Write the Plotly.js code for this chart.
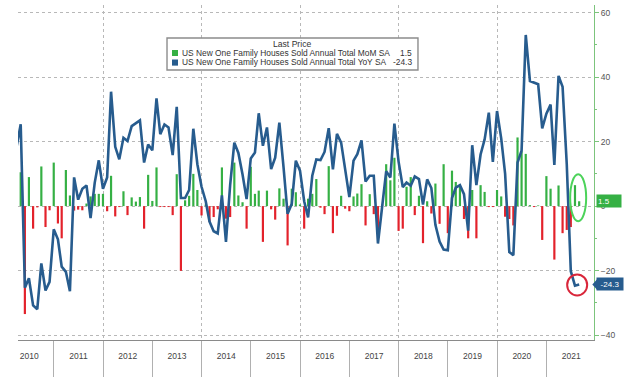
<!DOCTYPE html>
<html>
<head>
<meta charset="utf-8">
<script src="https://cdn.plot.ly/plotly-3.0.1.min.js"></script>
<style>html,body{margin:0;padding:0;background:#fff;}#chart{width:640px;height:377px;}</style>
</head>
<body>
<div id="chart"></div>
<script>
// First month of data (monthly series, Mar 2010 .. Aug 2021)
const startYear = 2010;
const startMonth = 3;

// US New One Family Houses Sold Annual Total MoM SA (%)
const momValues = [
  5, 10.5, -33.5, 9, -7, -0.4, 12.3, -6.5, -1.3, 13.5,
  -5.4, -10, 11.2, 3.3, -1.4, -1.1, -1.3, 0.8, 3, 3.8, 3.8, 3.8,
  -1.6, 9.4, -3.2, -0.3, 4.6, -2.8, 2.7, 1.4, 2.8, -7, 9.7, 1.6,
  12, -0.3, -0.3, -0.3, -2.8, 9.9, -20.1, 1.8, 3.2, 10, 5, -2.9,
  0.5, -4.9, -3.4, -1, 12, -3.9, -3.4, 13.5, 3.3, 1.2, -7, 12.2,
  3.8, 4.8, -11.1, 4.8, -1, -4.2, 5.5, 2.3, -12.2, 5.4, 4.3, 0.5,
  -7, 2.3, 3.8, 8.4, -0.5, -2.5, 12.4, -8.4, -3, 3.2, -0.8, -1.6,
  3, 3.9, 6.8, -6, 3.7, -2.5, -8.6, 0.5, 13, 8, 15, -7.7,
  -7, 6, 9, -2.8, 3.2, -11.5, 1.5, -2.3, 7, -5.5, 13, -8.4,
  11, 7.5, 6.3, -4, -10, 5, -10, 6.5, 4.4, -0.3, -0.3, 5,
  3, -3.3, -4, -6, 21.3, 17, 16.2, 0.3, -0.3, 0.2, -10.5, 9.3,
  5.4, -16.6, 6.4, -8.4, -7.4, -6.5, 6.5, 1.5
];

// US New One Family Houses Sold Annual Total YoY SA (%)
const yoyValues = [
  18.5, 25.4, -25.3, -22.4, -30.8, -32, -17.8, -26.2, -23.5, -7.2,
  -10.3, -18.8, -20.4, -26.4, 8.9, 2, 5.4, 6.4, -3.7, 7.3, 14.2, 5.4,
  8.9, 35.5, 18.4, 14.5, 21.2, 20.2, 24.8, 25.6, 26.6, 13.5, 19.1, 17.3,
  33.4, 22.3, 25.3, 24.4, 15.8, 30.8, 2.5, 2.5, 5, 24, 13, 6,
  1.5, -4.8, -7.8, -8.5, 3.3, -11.1, 6.5, 19.7, 16.5, 9.8, 2.2, 14.8,
  16.6, 28.8, 18.7, 24.4, 11.5, 15, 25.9, 12, -2.4, 0.7, 14.1, 11,
  1.5, -3.5, 9.4, 14.5, 14.3, 16.8, 24.2, 11.4, 22.4, 19.7, 10.9, 2.8,
  14.1, 16.1, 20.4, 7.6, 9.4, 9.4, -11.6, 0, 10.8, 8.9, 25.6, 13.8,
  5.9, 7.3, 6.3, 9.2, 8.4, 0.5, 8.3, 5.6, -5.8, -11, -13.5, -13.7,
  2.5, 5.7, 6.5, 3.7, -7.6, 18.9, 6.5, 16, 20.7, 29, 13.7, 29.5,
  21, 10, -14.3, -15.2, 13.5, 17.2, 53.1, 38.8, 38.3, 37.8, 24.1, 28.7,
  31.5, 12.8, 40.4, 37, 13, -20.2, -24.7, -24.3
];

const seriesNames = [
  'US New One Family Houses Sold Annual Total MoM SA',
  'US New One Family Houses Sold Annual Total YoY SA'
];
const legendTitle = 'Last Price';

const GREEN = '#35b044';
const RED = '#e3222b';
const BLUE = '#275c8e';

// month-end dates
function pad(n){return (n<10?'0':'')+n;}
const dates = momValues.map(function(_, k){
  const d = new Date(Date.UTC(startYear, startMonth - 1 + k + 1, 0));
  return d.getUTCFullYear()+'-'+pad(d.getUTCMonth()+1)+'-'+pad(d.getUTCDate());
});
const barColors = momValues.map(function(v){return v >= 0 ? GREEN : RED;});

const xRange = ['2010-04-10', '2021-12-19'];
const lastDate = dates[dates.length-1];
const lastMoM = momValues[momValues.length-1];
const lastYoY = yoyValues[yoyValues.length-1];

const traces = [
  {type:'bar', x:dates, y:momValues, xaxis:'x', yaxis:'y',
   marker:{color:barColors, line:{width:0}}, showlegend:false, hoverinfo:'skip'},
  {type:'scatter', mode:'lines', x:dates, y:yoyValues, xaxis:'x2', yaxis:'y',
   line:{color:BLUE, width:2.6}, showlegend:false, hoverinfo:'skip'}
];

const FONT = 'Liberation Sans, Arial, sans-serif';
const GRID = '#b8b8b8';

const layout = {
  width:640, height:377,
  margin:{l:18, r:46, t:5, b:37},
  paper_bgcolor:'#ffffff', plot_bgcolor:'#ffffff',
  bargap:0.42,
  showlegend:false,
  font:{family:FONT, size:8.5, color:'#444'},
  xaxis:{type:'date', range:xRange, dtick:'M24', tick0:'2012-01-01',
    showgrid:true, gridcolor:GRID, griddash:'dot', gridwidth:1,
    showticklabels:false, ticks:'', zeroline:false,
    showline:true, linecolor:'#8a8a8a', linewidth:1, fixedrange:true},
  xaxis2:{type:'date', range:xRange, overlaying:'x', anchor:'y', side:'bottom',
    dtick:'M12', tick0:'2010-01-01', tickformat:'%Y', ticklabelmode:'period',
    ticks:'outside', ticklen:38, tickcolor:'#b0b0b0', tickwidth:1,
    ticklabelstandoff:-30,
    showgrid:false, zeroline:false, showline:false,
    tickfont:{family:FONT, size:8.5, color:'#444'}, fixedrange:true},
  yaxis:{range:[-41.55, 62.4], side:'right', dtick:20, tick0:0,
    showgrid:true, gridcolor:GRID, griddash:'dot', gridwidth:1,
    zeroline:false, showline:true, linecolor:'#7cc47c', linewidth:1,
    ticks:'outside', ticklen:4, tickcolor:'#7cc47c',
    minor:{dtick:10, ticks:'outside', ticklen:2, tickcolor:'#7cc47c', showgrid:false},
    tickfont:{family:FONT, size:8.5, color:'#555'}, fixedrange:true},
  shapes:[
    // legend box
    {type:'rect', xref:'paper', yref:'paper', x0:0.2587, x1:0.6944, y0:0.806, y1:0.9015,
     fillcolor:'#ffffff', line:{color:'#8c8c8c', width:1.4}, layer:'above'},
    {type:'rect', xref:'paper', yref:'paper', x0:0.2674, x1:0.2778, y0:0.8478, y1:0.8657,
     fillcolor:GREEN, line:{width:0}, layer:'above'},
    {type:'rect', xref:'paper', yref:'paper', x0:0.2674, x1:0.2778, y0:0.8190, y1:0.8373,
     fillcolor:BLUE, line:{width:0}, layer:'above'},
    // highlight ellipses around the last observations
    {type:'circle', xref:'x', yref:'y', xsizemode:'pixel', ysizemode:'pixel',
     xanchor:lastDate, yanchor:lastMoM, x0:-9, x1:7, y0:-20, y1:27,
     line:{color:'#4cd35a', width:2}, fillcolor:'rgba(0,0,0,0)', layer:'above'},
    {type:'circle', xref:'x', yref:'y', xsizemode:'pixel', ysizemode:'pixel',
     xanchor:lastDate, yanchor:lastYoY, x0:-12, x1:8, y0:-11, y1:10,
     line:{color:'#d9263a', width:2}, fillcolor:'rgba(0,0,0,0)', layer:'above'},
    // pointer of the last-value tag
    {type:'path', xref:'paper', yref:'y', xsizemode:'pixel', ysizemode:'pixel',
     xanchor:1.004, yanchor:lastYoY, path:'M 1 5.5 L -4 0 L 1 -5.5 Z',
     fillcolor:BLUE, line:{width:0}, layer:'above'}
  ],
  annotations:[
    {xref:'paper', yref:'paper', x:0.4757, y:0.8836, text:legendTitle, showarrow:false,
     xanchor:'center', yanchor:'middle', font:{family:FONT, size:8.6, color:'#333'}},
    {xref:'paper', yref:'paper', x:0.2813, y:0.8567, text:seriesNames[0], showarrow:false,
     xanchor:'left', yanchor:'middle', font:{family:FONT, size:8.4, color:'#333'}},
    {xref:'paper', yref:'paper', x:0.2813, y:0.8284, text:seriesNames[1], showarrow:false,
     xanchor:'left', yanchor:'middle', font:{family:FONT, size:8.4, color:'#333'}},
    {xref:'paper', yref:'paper', x:0.6875, y:0.8567, text:lastMoM.toFixed(1), showarrow:false,
     xanchor:'right', yanchor:'middle', font:{family:FONT, size:8.4, color:'#333'}},
    {xref:'paper', yref:'paper', x:0.6875, y:0.8284, text:lastYoY.toFixed(1), showarrow:false,
     xanchor:'right', yanchor:'middle', font:{family:FONT, size:8.4, color:'#333'}},
    // last value tags on the right axis
    {xref:'paper', yref:'y', x:1.004, y:lastMoM, text:lastMoM.toFixed(1), showarrow:false,
     xanchor:'left', yanchor:'middle', bgcolor:GREEN, width:22, height:10, align:'left',
     font:{family:FONT, size:8, color:'#ffffff'}},
    {xref:'paper', yref:'y', x:1.004, y:lastYoY, text:lastYoY.toFixed(1), showarrow:false,
     xanchor:'left', yanchor:'middle', bgcolor:BLUE, width:24, height:10, align:'center',
     font:{family:FONT, size:8, color:'#ffffff'}}
  ]
};

Plotly.newPlot('chart', traces, layout, {staticPlot:true, displayModeBar:false});
</script>
</body>
</html>
